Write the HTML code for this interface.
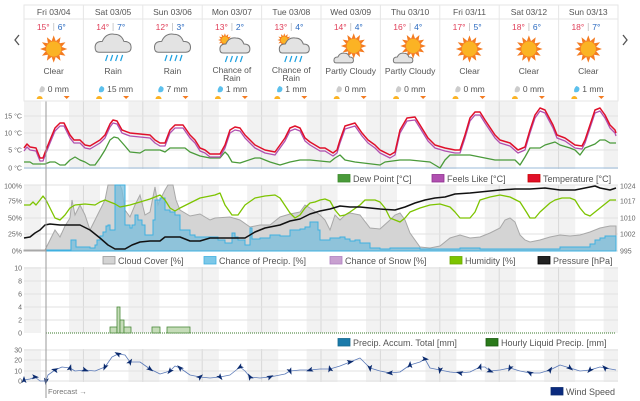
<!DOCTYPE html>
<html><head><meta charset="utf-8"><style>
html,body{margin:0;padding:0;background:#fff;}
svg{display:block;font-family:"Liberation Sans",sans-serif;}
</style></head><body>
<svg id="s" width="640" height="401" viewBox="0 0 640 401" xmlns="http://www.w3.org/2000/svg"></svg>
<script>
const S=document.getElementById('s');let h='';
const X0=24,DW=59.4,X1=618;
function shade(y0,y1){let o='';
 o+=`<rect x="${X0}" y="${y0}" width="17" height="${y1-y0}" fill="#f2f2f2"/>`;
 for(let d=0;d<10;d++){let a=X0+d*DW+45,b=a+31;if(b>X1)b=X1;o+=`<rect x="${a}" y="${y0}" width="${b-a}" height="${y1-y0}" fill="#f2f2f2"/>`;}
 for(let d=1;d<10;d++){let x=X0+d*DW;o+=`<line x1="${x}" y1="${y0}" x2="${x}" y2="${y1}" stroke="#d8d8d8" stroke-width="1"/>`;}
 return o;}
h+=shade(103,169)+shade(185,251)+shade(267,333)+shade(349,382);
h+=shade(101,103);
function grid(ys,x0=X0,x1=X1){return ys.map(y=>`<line x1="${x0}" y1="${y}" x2="${x1}" y2="${y}" stroke="#e2e2e2"/>`).join('');}
h+=grid([116,133,150])+`<line x1="24" y1="168" x2="618" y2="168" stroke="#9bbbd8"/>`;
h+=grid([185,201,218,234,251]);
h+=grid([268,281,294,307,320]);
h+=grid([350,360,371,381]);
function lab(x,y,t,a='end',s=7,c='#666'){return `<text x="${x}" y="${y}" font-size="${s}" fill="${c}" text-anchor="${a}">${t}</text>`;}
[[116,'15 °C'],[133,'10 °C'],[150,'5 °C'],[168,'0 °C']].forEach(v=>h+=lab(22,v[0]+2.5,v[1]));
[[186,'100%'],[201,'75%'],[218,'50%'],[234,'25%'],[251,'0%']].forEach(v=>h+=lab(22,v[0]+2.5,v[1]));
[[186,'1024'],[201,'1017'],[218,'1010'],[234,'1002'],[251,'995']].forEach(v=>h+=lab(620,v[0]+2.5,v[1],'start'));
[[268,'10'],[281,'8'],[294,'6'],[307,'4'],[320,'2'],[333,'0']].forEach(v=>h+=lab(22,v[0]+2.5,v[1]));
[[350,'30'],[360,'20'],[371,'10'],[381,'0']].forEach(v=>h+=lab(22,v[0]+2.5,v[1]));
function P(a){return a.map((p,i)=>(i?'L':'M')+p[0]+' '+p[1]).join(' ');}
function line(a,c,w=1.5){return `<path d="${P(a)}" fill="none" stroke="${c}" stroke-width="${w}" stroke-linejoin="round"/>`;}
function area(a,y0,f,c){return `<path d="${P(a)} L${a[a.length-1][0]} ${y0} L${a[0][0]} ${y0} Z" fill="${f}" stroke="${c}" stroke-width="1"/>`;}
function step(a){let o=[];a.forEach((p,i)=>{if(i)o.push([p[0],a[i-1][1]]);o.push(p);});return o;}
const cloud=[[24,250],[45,250],[50,240],[55,230],[60,237],[65,226],[70,218],[72,200],[75,215],[80,205],[85,215],[90,230],[95,220],[100,210],[105,200],[108,185],[120,185],[122,190],[125,210],[130,217],[135,205],[140,195],[145,215],[150,212],[155,187],[158,205],[160,200],[165,190],[168,185],[173,185],[176,200],[180,210],[190,216],[200,214],[210,220],[215,218],[230,217],[240,220],[250,227],[260,225],[270,225],[280,217],[290,214],[300,212],[305,205],[310,208],[320,215],[325,220],[330,230],[335,215],[340,220],[345,215],[350,213],[360,215],[370,228],[380,229],[390,220],[395,215],[400,213],[405,220],[410,233],[420,247],[430,248],[440,246],[450,238],[460,235],[470,238],[480,237],[490,233],[500,228],[505,220],[510,218],[515,222],[520,235],[525,240],[530,242],[540,240],[550,237],[560,235],[570,236],[580,235],[590,232],[600,228],[610,226],[616,226]];
h+=area(cloud,251,'#d4d4d4','#a8a8a8');
const pr=[[46,250],[70,250],[71,240],[75,240],[76,247],[85,247],[90,248],[95,245],[97,240],[100,236],[103,232],[106,226],[108,225],[110,230],[113,230],[115,185],[123,185],[125,225],[130,228],[132,225],[135,215],[138,220],[142,225],[145,235],[150,235],[153,220],[155,200],[160,198],[163,198],[165,210],[170,212],[175,215],[180,230],[190,235],[195,237],[200,237],[210,237],[218,240],[225,243],[232,233],[235,237],[238,240],[245,245],[250,228],[252,239],[260,238],[270,235],[280,236],[290,230],[300,229],[305,227],[310,222],[318,230],[320,240],[330,238],[340,237],[345,239],[350,241],[355,240],[360,243],[370,248],[380,249],[390,248],[420,249],[460,248],[480,249],[560,247],[580,247],[590,244],[595,240],[600,238],[605,236],[616,236]];
h+=area(step(pr),251,'rgba(120,190,220,0.75)','#3fb0e0');
const hum=[[24,205],[30,205],[33,202],[36,205],[40,200],[43,196],[46,200],[50,208],[55,218],[60,220],[65,215],[70,208],[75,205],[85,204],[95,205],[100,202],[105,200],[110,202],[115,204],[120,207],[130,205],[140,202],[150,199],[160,195],[165,200],[170,208],[175,211],[180,208],[190,203],[200,198],[210,196],[215,195],[220,193],[225,205],[232,215],[238,215],[245,205],[255,198],[265,196],[275,195],[280,198],[290,213],[295,218],[300,215],[305,208],[310,203],[315,202],[320,200],[325,199],[330,201],[335,210],[340,216],[345,215],[350,212],[360,205],[365,200],[375,200],[380,202],[385,208],[390,218],[400,222],[405,218],[410,212],[420,208],[430,205],[440,204],[450,207],[455,212],[460,218],[470,218],[475,212],[480,200],[490,197],[500,195],[510,197],[520,202],[527,213],[530,218],[535,218],[540,212],[550,203],[555,200],[562,198],[570,198],[575,200],[580,208],[585,214],[590,216],[595,212],[600,208],[610,200],[616,200]];
h+=line(hum,'#7dc400',1.3);
const pres=[[24,238],[30,237],[35,233],[40,230],[45,225],[50,224],[60,225],[80,225],[90,230],[100,238],[108,245],[115,249],[125,249],[132,245],[140,242],[150,241],[160,241],[165,237],[180,237],[190,241],[200,241],[210,238],[245,238],[255,232],[265,228],[280,225],[290,221],[300,219],[310,214],[320,211],[330,209],[340,206],[350,207],[360,207],[380,209],[395,210],[405,207],[415,203],[425,200],[435,198],[445,197],[455,194],[470,193],[480,192],[500,190],[515,189],[530,189],[545,188],[560,190],[575,190],[595,186],[600,188],[610,190],[616,188]];
h+=line(pres,'#111',1.5);
const red=[[24,148],[27,144],[30,147],[36,148],[40,158],[43,158],[46,150],[50,140],[55,128],[60,123],[64,123],[70,135],[74,140],[80,140],[85,145],[90,146],[95,143],[100,140],[105,135],[110,124],[113,120],[117,121],[122,130],[130,133],[140,134],[150,135],[155,140],[160,143],[165,143],[170,130],[175,125],[183,125],[190,135],[195,140],[200,148],[205,150],[210,154],[220,154],[225,145],[230,130],[235,127],[240,128],[245,135],[250,140],[255,145],[265,150],[275,152],[285,138],[290,128],[295,126],[300,128],[305,138],[310,142],[315,145],[320,148],[325,148],[333,153],[337,150],[340,140],[345,126],[355,123],[362,133],[368,140],[375,145],[380,150],[390,155],[395,152],[400,130],[407,118],[415,117],[420,125],[428,138],[435,145],[445,148],[455,150],[460,150],[465,135],[470,118],[475,112],[480,112],[485,120],[495,135],[500,140],[510,143],[518,150],[525,147],[530,130],[535,115],[540,108],[545,110],[553,125],[557,135],[565,138],[575,145],[582,146],[585,140],[590,125],[595,110],[600,108],[605,115],[610,125],[615,130],[616,133]];
const dew=[[24,162],[30,162],[33,164],[45,164],[50,162],[55,162],[60,165],[65,165],[70,160],[75,157],[80,160],[85,162],[90,165],[95,165],[100,158],[105,150],[110,140],[114,137],[118,138],[125,146],[130,152],[140,153],[145,150],[160,150],[165,152],[170,148],[185,148],[190,152],[200,156],[210,158],[220,158],[225,152],[228,155],[232,162],[240,163],[255,158],[260,158],[270,162],[280,165],[290,162],[300,160],[310,160],[330,162],[335,158],[340,155],[345,160],[355,162],[380,165],[385,162],[400,160],[410,160],[430,162],[435,165],[440,168],[445,160],[450,155],[470,155],[495,160],[515,160],[520,165],[525,157],[530,148],[540,148],[545,145],[555,142],[560,145],[570,148],[575,150],[580,155],[585,148],[595,144],[600,140],[605,140],[610,143],[616,143]];
const feel=red.map(p=>{let y=p[1]+3;let d=dew.reduce((a,b)=>Math.abs(b[0]-p[0])<Math.abs(a[0]-p[0])?b:a);if(y>d[1])y=d[1];return [p[0],y];});
h+=line(dew,'#4a9a3a',1.3)+line(feel,'#b050b0',1.3)+line(red,'#e0102a',1.5);
h+=`<line x1="46" y1="333" x2="616" y2="333" stroke="#3a7a2a" stroke-dasharray="1 1"/>`;
[[110,117,327],[117,120,307],[120,124,320],[124,131,327],[152,160,327],[167,190,327]].forEach(b=>h+=`<rect x="${b[0]}" y="${b[2]}" width="${b[1]-b[0]}" height="${333-b[2]}" fill="#c5dcb8" stroke="#4a8a3a" stroke-width="0.8"/>`);
const wind=[[24,380],[30,379],[35,377],[40,381],[46,381],[48,375],[55,370],[62,367],[70,368],[75,371],[85,370],[95,371],[105,367],[112,357],[118,354],[125,355],[130,362],[140,362],[150,369],[160,374],[170,371],[175,366],[180,368],[190,375],[200,377],[210,378],[220,377],[230,375],[240,367],[245,371],[250,377],[260,378],[270,377],[285,374],[290,371],[300,370],[310,370],[320,369],[330,369],[340,366],[350,362],[360,358],[370,368],[380,371],[390,373],[400,372],[410,365],[420,362],[425,359],[430,368],[440,370],[450,372],[460,373],[470,372],[480,367],[485,367],[490,371],[500,370],[510,368],[520,371],[530,373],[540,373],[550,370],[560,365],[570,368],[580,371],[590,370],[600,367],[605,368],[616,370]];
h+=line(wind,'#5b7ab8',0.8);
wind.forEach((p,i)=>{if(i%2)return;const a=(i*47)%360;h+=`<path d="M0 -4 L2.5 3 L0 1.5 L-2.5 3 Z" fill="#0a2a6e" transform="translate(${p[0]} ${p[1]}) rotate(${a})"/>`;});
h+=`<line x1="46" y1="100" x2="46" y2="398" stroke="#999" stroke-width="1"/>`;
h+=lab(48,394,'Forecast →','start',7.5,'#777');
function leg(x,y,f,c,t){return `<rect x="${x}" y="${y-7.5}" width="12" height="7.5" fill="${f}" stroke="${c}" stroke-width="0.8"/>`+lab(x+15,y,t,'start',9,'#555');}
h+=leg(338,182,'#4a9a3a','#3a8a2a','Dew Point [°C]')+leg(432,182,'#b050b0','#903090','Feels Like [°C]')+leg(528,182,'#e0102a','#c00','Temperature [°C]');
h+=leg(103,264,'#d4d4d4','#999','Cloud Cover [%]')+leg(204,264,'#7cc8e8','#3fb0e0','Chance of Precip. [%]')+leg(330,264,'#c8a0d0','#b080c0','Chance of Snow [%]')+leg(450,264,'#7dc400','#6aa800','Humidity [%]')+leg(538,264,'#222','#000','Pressure [hPa]');
h+=leg(338,346,'#1a7aaa','#15698f','Precip. Accum. Total [mm]')+leg(486,346,'#2a7a1a','#1a5a10','Hourly Liquid Precip. [mm]');
h+=leg(551,395,'#0a2a7e','#0a2a6e','Wind Speed');
h+=`<rect x="24" y="5" width="594" height="96" fill="#fff" stroke="#e6e6e6"/><line x1="24" y1="19" x2="618" y2="19" stroke="#e6e6e6"/>`;
const days=[['Fri 03/04','15','6','sun','Clear','0'],['Sat 03/05','14','7','rain','Rain','15'],['Sun 03/06','12','3','rain','Rain','7'],['Mon 03/07','13','2','crain','Chance of|Rain','1'],['Tue 03/08','13','4','crain','Chance of|Rain','1'],['Wed 03/09','14','4','pc','Partly Cloudy','0'],['Thu 03/10','16','4','pc','Partly Cloudy','0'],['Fri 03/11','17','5','sun','Clear','0'],['Sat 03/12','18','6','sun','Clear','0'],['Sun 03/13','18','7','sun','Clear','1']];
function sun(cx,cy,r){let o='';for(let i=0;i<12;i++){const a=i*30*Math.PI/180,b=a+0.24,c=a-0.24;o+=`<path d="M${cx+Math.cos(b)*r*1.05} ${cy+Math.sin(b)*r*1.05} L${cx+Math.cos(a)*r*1.7} ${cy+Math.sin(a)*r*1.7} L${cx+Math.cos(c)*r*1.05} ${cy+Math.sin(c)*r*1.05}Z" fill="#f47b20"/>`;}
 return o+`<circle cx="${cx}" cy="${cy}" r="${r}" fill="#fbb324" stroke="#f47b20" stroke-width="0.8"/>`;}
function cl(cx,cy,s){return `<path d="M${cx-12*s} ${cy+6*s} Q${cx-15*s} ${cy+6*s} ${cx-15*s} ${cy+2*s} Q${cx-15*s} ${cy-3*s} ${cx-9*s} ${cy-3*s} Q${cx-6*s} ${cy-10*s} ${cx+1*s} ${cy-9*s} Q${cx+7*s} ${cy-9*s} ${cx+9*s} ${cy-3*s} Q${cx+15*s} ${cy-3*s} ${cx+15*s} ${cy+2*s} Q${cx+15*s} ${cy+6*s} ${cx+11*s} ${cy+6*s} Z" fill="#e3e3e3" stroke="#777" stroke-width="1"/>`;}
function drops(cx,cy){let o='';[-7,-2,3,8].forEach(d=>o+=`<line x1="${cx+d+1.5}" y1="${cy}" x2="${cx+d-0.5}" y2="${cy+6}" stroke="#1aa0e0" stroke-width="1.2"/>`);return o;}
days.forEach((d,i)=>{const x=X0+i*DW,c=x+DW/2;
 if(i)h+=`<line x1="${x}" y1="5" x2="${x}" y2="101" stroke="#e6e6e6"/>`;
 h+=lab(c,15,d[0],'middle',8.5,'#555');
 h+=`<text x="${c-4}" y="30" font-size="8.5" fill="#e0405a" text-anchor="end">${d[1]}°</text><line x1="${c}" y1="23" x2="${c}" y2="31" stroke="#ccc"/><text x="${c+4}" y="30" font-size="8.5" fill="#2a6ac0">${d[2]}°</text>`;
 if(d[3]=='sun')h+=sun(c,49,8);
 else if(d[3]=='rain'){h+=cl(c,45,1.2)+drops(c,55);}
 else if(d[3]=='crain'){h+=sun(c-7,40,4)+cl(c+3,47,1)+drops(c+1,56);}
 else {h+=sun(c+3,46,7.5)+cl(c-7,59,0.65);}
 const L=d[4].split('|');
 if(L.length==1)h+=lab(c,74,L[0],'middle',8.5,'#555');else{h+=lab(c,73,L[0],'middle',8.5,'#555')+lab(c,81,L[1],'middle',8.5,'#555');}
 const col=(d[5]=='0')?'#ccc':'#5cc0ec';
 h+=`<path d="M${c-12} ${86} Q${c-8} ${87} ${c-9} ${90} Q${c-10} ${93} ${c-14} ${92} Q${c-15} ${89} ${c-12} 86Z" fill="${col}"/>`+lab(c-6,92,d[5]+' mm','start',8.5,'#555');
 h+=`<path d="M${c-17} 99 A3 3 0 0 1 ${c-11} 99 Z" fill="#fbb324"/><path d="M${c+10} 96 L${c+16} 96 L${c+13} 99Z" fill="#f47b20"/>`;
});
h+=`<path d="M19 35 L15 40 L19 45" fill="none" stroke="#555" stroke-width="1.3"/><path d="M623 35 L627 40 L623 45" fill="none" stroke="#555" stroke-width="1.3"/>`;
S.innerHTML=h;
</script>
</body></html>
